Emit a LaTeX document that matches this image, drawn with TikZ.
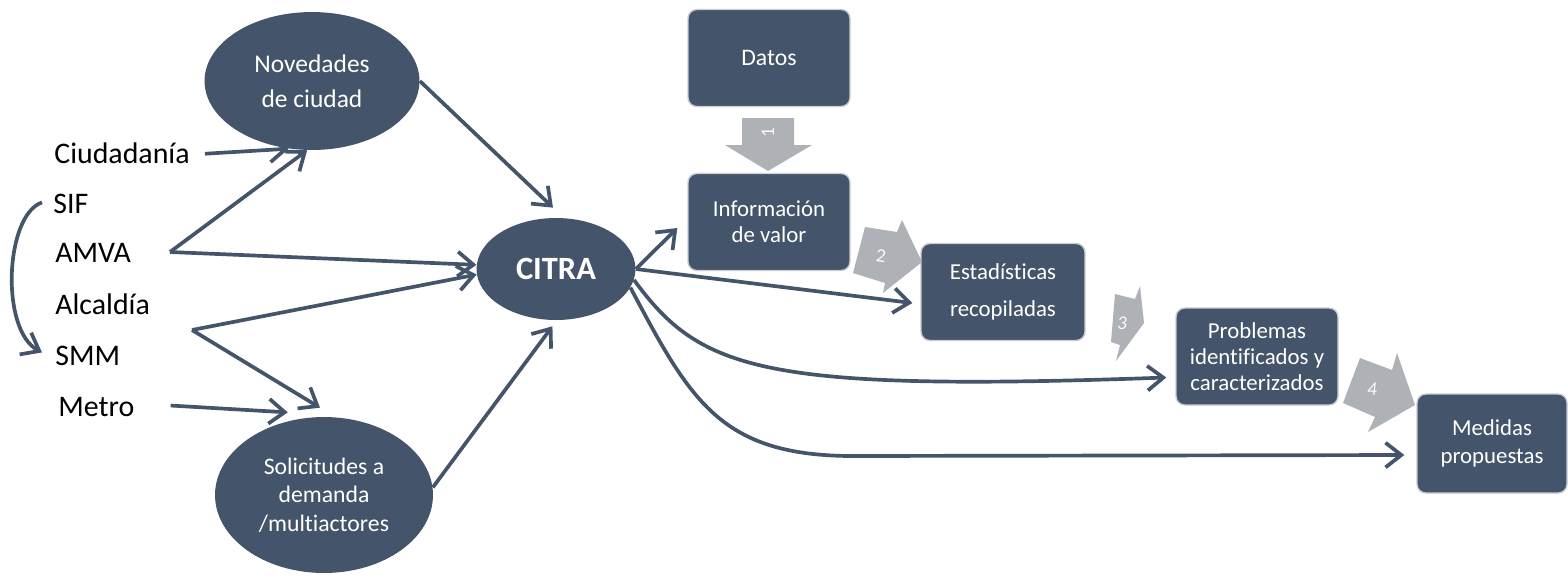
\documentclass[tikz,border=0pt]{standalone}
\usepackage{fontspec}
\setmainfont{Carlito}[Ligatures=NoCommon]
\usetikzlibrary{arrows.meta,calc,shapes.geometric}
\definecolor{slate}{HTML}{44546A}
\definecolor{garr}{HTML}{AEB1B6}
\definecolor{bord}{HTML}{C8CBD0}
\begin{document}
\begin{tikzpicture}[x=0.02cm,y=-0.02cm,
  ell/.style={ellipse, fill=slate, text=white, align=center, inner sep=0pt},
  box/.style={rectangle, rounded corners=5pt, fill=slate, draw=bord, line width=0.8pt, text=white, align=center, minimum width=3.24cm, minimum height=1.94cm, inner sep=0pt},
  lab/.style={anchor=base west, inner sep=0pt, font=\fontsize{17}{20}\selectfont},
  con/.style={draw=slate, line width=2.1pt, -{Straight Barb[length=9pt,width=14pt]}},
  garrow/.style={fill=garr},
  num/.style={text=white!92!garr, inner sep=0pt, font=\fontsize{11}{12}\selectfont}]
\useasboundingbox (0,0) rectangle (1568,576);

% ellipses
\node[ell, minimum width=4.3cm, minimum height=2.76cm, font=\fontsize{14.5}{20}\selectfont] (nov) at (312,81) {Novedades\\de ciudad};
\node[ell, minimum width=4.36cm, minimum height=3.12cm, font=\fontsize{13.5}{16.2}\selectfont] (sol) at (324,495) {Solicitudes a\\demanda\\/multiactores};
\node[ell, minimum width=3.18cm, minimum height=2.04cm, font=\fontsize{18.5}{20}\selectfont\bfseries] (cit) at (556,269) {CITRA};

% boxes
\node[box, font=\fontsize{13.5}{15}\selectfont] (dat) at (769,58) {Datos};
\node[box, font=\fontsize{13}{14.8}\selectfont] (info) at (769,222) {Información\\de valor};
\node[box, minimum width=3.28cm, font=\fontsize{13}{21}\selectfont] (est) at (1003,292) {Estadísticas\\recopiladas};
\node[box, font=\fontsize{13}{14.8}\selectfont] (prob) at (1257,356.5) {Problemas\\identificados y\\caracterizados};
\node[box, minimum width=3.0cm, minimum height=1.98cm, font=\fontsize{13}{16}\selectfont] (med) at (1492,443.5) {Medidas\\propuestas};

% left labels
\node[lab] (ciu) at (54,163) {Ciudadanía};
\node[lab] (sif) at (53,213) {SIF};
\node[lab] (amva) at (55,262) {AMVA};
\node[lab] (alc) at (55,314) {Alcaldía};
\node[lab] (smm) at (55,365) {SMM};
\node[lab] (met) at (58,416) {Metro};

\coordinate (amj) at (170,252);
\coordinate (alj) at (192,330);

% gray block arrows
\fill[garrow] (742,118) -- (794,118) -- (794,145) -- (812,145) -- (768,171) -- (725,145) -- (742,145) -- cycle;
\node[num, rotate=90] (n1) at (768,133) {1};
\fill[garrow] (865,227) -- (897,232) -- (902,220) -- (922,262) -- (883,293) -- (885,283) -- (853,273) -- cycle;
\node[num, rotate=-8] (n2) at (881,256) {2};
\fill[garrow] (1115,294) -- (1135,299) -- (1140,286) -- (1144,323) -- (1116,361) -- (1120,345) -- (1111,342) -- cycle;
\node[num, font=\fontsize{11}{12}\selectfont\itshape] (n3) at (1122,323) {3};
\fill[garrow] (1360,358) -- (1392,370) -- (1397,353) -- (1415,405) -- (1368,432) -- (1375,417) -- (1343,403) -- cycle;
\node[num, font=\fontsize{11}{12}\selectfont\itshape] (n4) at (1372,389) {4};

% connectors
\draw[con] ($(ciu.east)+(15,1)$) -- (nov.251);
\draw[con] (amj) -- (nov.266);
\draw[con] (amj) -- (cit.177);
\draw[con] (alj) -- (cit.184);
\draw[con] (alj) -- ($(sol.north)+(-4,-9)$);
\draw[con] ($(met.east)+(36,-1)$) -- ($(sol.114)+(-3,-8)$);
\draw[con] (sol.4) -- ($(cit.266)+(0,6)$);
\draw[con] (nov.east) -- ($(cit.north)+(-3,-10)$);
\draw[con] (cit.east) -- ($(info.west)+(-10,6)$);
\draw[con] (cit.east) -- ($(est.west)+(-8,11)$);
\draw[con] (cit.-8) .. controls (700,370) and (760,392) .. ($(prob.west)+(-9,21)$);
\draw[con] (cit.-14) .. controls (690,400) and (720,455) .. (850,456) -- ($(med.west)+(-12,11.5)$);
\draw[con] ($(sif.west)+(-11,-1)$) .. controls (5,215) and (0,330) .. ($(smm.west)+(-13,-3)$);
\end{tikzpicture}
\end{document}
